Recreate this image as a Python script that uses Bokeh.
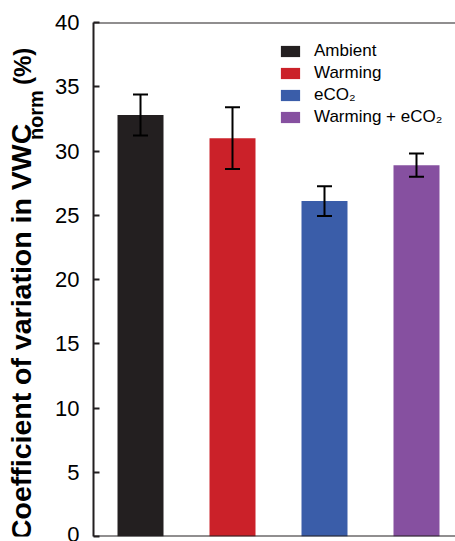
import math
from bokeh.plotting import figure
from bokeh.layouts import row
from bokeh.core.properties import value
from bokeh.models import (ColumnDataSource, Range1d, FixedTicker, Whisker, TeeHead,
                          Span, Legend, LegendItem)
from bokeh.embed import file_html
from bokeh.resources import INLINE

categories = ["Ambient", "Warming", "eCO\u2082", "Warming + eCO\u2082"]
means = [32.8, 31.0, 26.1, 28.9]
errors = [1.6, 2.4, 1.15, 0.9]
colors = ["#231f20", "#cb2129", "#3a5da9", "#8650a0"]
y_ticks = [0, 5, 10, 15, 20, 25, 30, 35, 40]
title_main = "Coefficient of variation in VWC"
title_sub = "norm"
title_unit = "(%)"

TITLE_W = 48
H = 541

xs = list(range(len(categories)))
src = ColumnDataSource(dict(
    x=xs, top=means, cat=categories, color=colors,
    upper=[m + e for m, e in zip(means, errors)],
    lower=[m - e for m, e in zip(means, errors)],
))

# ---- strip holding the rotated y-axis title (pixel coordinates, y up) ----
t = figure(width=TITLE_W, height=H, output_backend="svg", toolbar_location=None,
           x_range=Range1d(0, TITLE_W), y_range=Range1d(0, H),
           min_border=0, outline_line_color=None)
t.axis.visible = False
t.grid.visible = False
t.background_fill_color = "white"
t.border_fill_color = "white"
tkw = dict(angle=math.pi / 2, text_font=value("Liberation Sans"),
           text_font_style="bold", text_align="left",
           text_baseline="alphabetic", text_color="black")
t.text(x=[20.6], y=[H - 544.8], text=[title_main], text_font_size=value("28.5px"), **tkw)
t.text(x=[35.6], y=[H - 123.8], text=[title_sub], text_font_size=value("20px"), **tkw)
t.text(x=[21.7], y=[H - 65.8], text=[title_unit], text_font_size=value("24px"), **tkw)

# ---- main chart ----
p = figure(width=455 - TITLE_W, height=H, output_backend="svg",
           toolbar_location=None,
           x_range=Range1d(-0.511, 3.424), y_range=Range1d(0, 40),
           min_border_left=93 - TITLE_W, min_border_right=0, min_border_top=22,
           min_border_bottom=5)
p.xaxis.visible = False
p.grid.visible = False
p.outline_line_color = None
p.background_fill_color = "white"
p.border_fill_color = "white"

ya = p.yaxis[0]
ya.ticker = FixedTicker(ticks=y_ticks)
ya.axis_line_width = 2
ya.axis_line_color = "#231f20"
ya.major_tick_line_width = 2
ya.major_tick_line_color = "#231f20"
ya.major_tick_in = 6
ya.major_tick_out = 0
ya.minor_tick_line_color = None
ya.major_label_standoff = 14
ya.major_label_text_font = "Liberation Sans"
ya.major_label_text_font_size = "22px"
ya.major_label_text_color = "black"

bars = p.vbar(x="x", top="top", width=0.5, source=src, fill_color="color",
              line_color=None)

wh = Whisker(source=src, base="x", upper="upper", lower="lower",
             line_width=2, line_color="black", level="overlay",
             upper_head=TeeHead(size=15, line_width=2, line_color="black"),
             lower_head=TeeHead(size=15, line_width=2, line_color="black"))
p.add_layout(wh)

for yv in (0, 40):
    p.add_layout(Span(location=yv, dimension="width", line_color="#231f20",
                      line_width=2))

legend = Legend(items=[LegendItem(label=c, renderers=[bars], index=i)
                       for i, c in enumerate(categories)],
                location=(185, 409), orientation="vertical",
                glyph_width=24, glyph_height=14, label_standoff=12,
                spacing=2, padding=4, border_line_color=None,
                background_fill_alpha=0,
                label_text_font="Liberation Sans", label_text_font_size="17px",
                label_text_color="black")
p.add_layout(legend)

layout = row(t, p, spacing=0)
open("out.html", "w").write(file_html(layout, INLINE))
